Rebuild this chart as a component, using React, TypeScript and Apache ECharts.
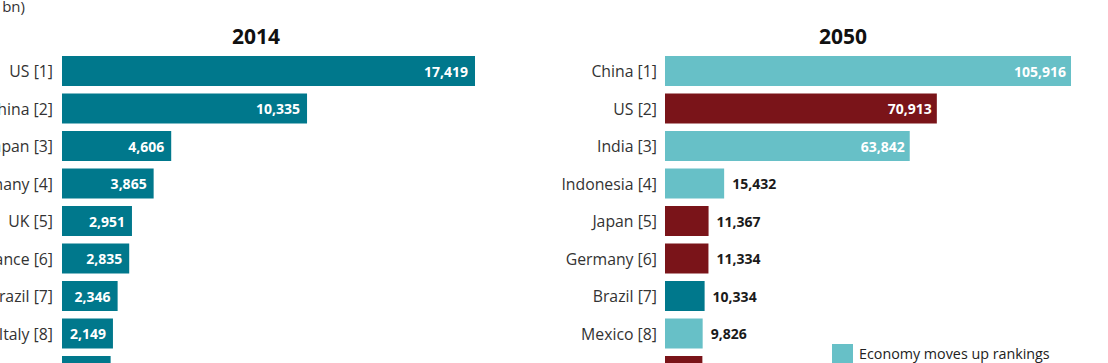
import React, { useEffect, useRef } from "react";
import * as echarts from "echarts";

const categories2014 = ["US [1]", "China [2]", "Japan [3]", "Germany [4]", "UK [5]", "France [6]", "Brazil [7]", "Italy [8]", "India [9]"];
const values2014 = [17419, 10335, 4606, 3865, 2951, 2835, 2346, 2149, 2051];

const categories2050 = ["China [1]", "US [2]", "India [3]", "Indonesia [4]", "Japan [5]", "Germany [6]", "Brazil [7]", "Mexico [8]", "UK [9]"];
const values2050 = [105916, 70913, 63842, 15432, 11367, 11334, 10334, 9826, 9750];
const status2050 = ["up", "down", "up", "up", "down", "down", "same", "up", "down"];

const titles = ["2014", "2050"];
const unitLabel = "GDP (US$ bn)";
const legendLabels = ["Economy moves up rankings"];
const legendStatuses = ["up"];

const DARK_TEAL = "#00788C";
const LIGHT_TEAL = "#67C0C7";
const DARK_RED = "#7A1419";
const statusColor: Record<string, string> = { up: LIGHT_TEAL, down: DARK_RED, same: DARK_TEAL };

const FONT = "Open Sans";
const OFFSET = 80;
const EXTRA_RIGHT = 200;

export default function App() {
  const ref = useRef<HTMLDivElement>(null);
  useEffect(() => {
    if (!ref.current) return;
    const chart = echarts.init(ref.current, undefined, { renderer: "svg" });
    const fmt = (v: number) => v.toLocaleString("en-US");
    const labelBase = { fontFamily: FONT, fontSize: 14, fontWeight: "bold" as const };
    const catLabel = { fontFamily: FONT, fontSize: 15.8, color: "#333333" };
    chart.setOption({
      animation: false,
      textStyle: { fontFamily: FONT },
      grid: [
        { left: 142, top: 52.25, width: 474.2, height: 337.5 },
        { left: 745, top: 52.25, width: 460, height: 337.5 },
      ],
      xAxis: [
        { gridIndex: 0, type: "value", min: 0, max: 20000, show: false },
        { gridIndex: 1, type: "value", min: 0, max: 120000, show: false },
      ],
      yAxis: [
        {
          gridIndex: 0, type: "category", inverse: true, data: categories2014,
          axisLine: { show: false }, axisTick: { show: false },
          axisLabel: { ...catLabel, margin: 9 },
        },
        {
          gridIndex: 1, type: "category", inverse: true, data: categories2050,
          axisLine: { show: false }, axisTick: { show: false },
          axisLabel: { ...catLabel, margin: 8 },
        },
      ],
      series: [
        {
          type: "bar", xAxisIndex: 0, yAxisIndex: 0, barCategoryGap: "20%",
          itemStyle: { color: DARK_TEAL },
          data: values2014,
          label: {
            show: true, position: "insideRight", distance: 7, color: "#ffffff", ...labelBase,
            formatter: (p: any) => fmt(p.value),
          },
        },
        {
          type: "bar", xAxisIndex: 1, yAxisIndex: 1, barCategoryGap: "20%",
          data: values2050.map((v, i) => {
            const inside = v > 30000;
            return {
              value: v,
              itemStyle: { color: statusColor[status2050[i]] },
              label: inside
                ? { position: "insideRight", distance: 5, color: "#ffffff" }
                : { position: "right", distance: 8, color: "#1a1a1a" },
            };
          }),
          label: { show: true, ...labelBase, formatter: (p: any) => fmt(p.value) },
        },
      ],
      graphic: [
        {
          type: "text", x: 105, y: 6,
          style: { text: unitLabel, fontFamily: FONT, fontSize: 15, fill: "#333333", textAlign: "right", textVerticalAlign: "middle" },
        },
        {
          type: "text", x: 256 + OFFSET, y: 36,
          style: { text: titles[0], fontFamily: FONT, fontSize: 21, fontWeight: "bold", fill: "#111111", textAlign: "center", textVerticalAlign: "middle" },
        },
        {
          type: "text", x: 843 + OFFSET, y: 36,
          style: { text: titles[1], fontFamily: FONT, fontSize: 21, fontWeight: "bold", fill: "#111111", textAlign: "center", textVerticalAlign: "middle" },
        },
        ...legendLabels.flatMap((t, i) => [
          {
            type: "rect", shape: { x: 832 + OFFSET, y: 344 + i * 28, width: 21, height: 21 },
            style: { fill: statusColor[legendStatuses[i]] },
          },
          {
            type: "text", x: 859 + OFFSET, y: 353 + i * 28,
            style: { text: t, fontFamily: FONT, fontSize: 14.3, fill: "#222222", textVerticalAlign: "middle" },
          },
        ]),
      ],
    });
    return () => chart.dispose();
  }, []);
  return (
    <div style={{ position: "fixed", left: 0, top: 0, width: 1108, height: 363, overflow: "hidden", background: "#ffffff" }}>
      <div ref={ref} style={{ position: "absolute", left: -OFFSET, top: 0, width: 1108 + OFFSET + EXTRA_RIGHT, height: 440 }} />
    </div>
  );
}
